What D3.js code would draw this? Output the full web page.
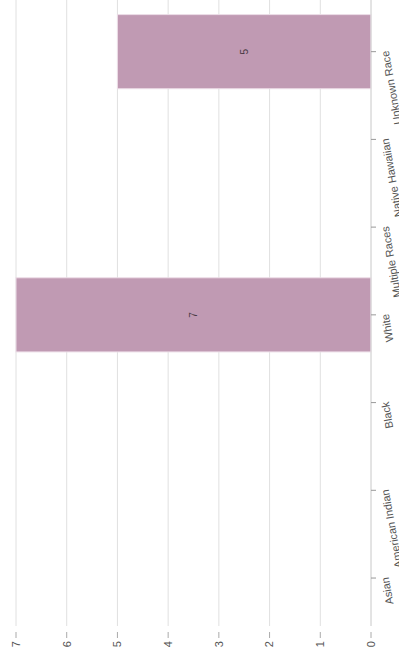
<!DOCTYPE html>
<html><head><meta charset="utf-8">
<script src="https://cdn.jsdelivr.net/npm/d3@7"></script>
<style>html,body{margin:0;padding:0;background:#fff;overflow:hidden}svg{display:block}</style>
</head><body>
<svg id="chart" width="399" height="657"></svg>
<script>
const categories = ["Asian","American Indian","Black","White","Multiple Races","Native Hawaiian","Unknown Race"];
const values = [null, null, null, 7, null, null, 5];
const valueTicks = [0,1,2,3,4,5,6,7];

const W = 657, H = 399; // rotated frame
const svg = d3.select("#chart");
const g = svg.append("g").attr("transform", "translate(0,657) rotate(-90)");

const x = d3.scaleBand().domain(categories).range([35.1, 649.2]).paddingInner(0.155).paddingOuter(0.0775);
const y = d3.scaleLinear().domain([0,7]).range([371, 16]);

// gridlines
g.append("g").selectAll("line").data(valueTicks).join("line")
  .attr("x1", 31).attr("x2", W)
  .attr("y1", d => y(d)).attr("y2", d => y(d))
  .attr("stroke", "#e0e0e0").attr("stroke-width", 1);

// bars
const data = categories.map((c,i)=>({c, v: values[i]})).filter(d => d.v != null);
g.append("g").selectAll("rect").data(data).join("rect")
  .attr("x", d => x(d.c)).attr("width", x.bandwidth())
  .attr("y", d => y(d.v)).attr("height", d => y(0) - y(d.v))
  .attr("fill", "#c09ab3").attr("stroke", "#ecdde7").attr("stroke-width", 1);

g.append("g").selectAll("text").data(data).join("text")
  .attr("x", d => x(d.c) + x.bandwidth()/2)
  .attr("y", d => (y(d.v) + y(0))/2)
  .attr("dy", "0.35em").attr("text-anchor", "middle")
  .attr("font-family", "Liberation Sans, Arial, sans-serif").attr("font-size", 10)
  .attr("fill", "#4a3a45").text(d => d.v);

// category axis (original bottom)
const xAxis = g.append("g").attr("transform", `translate(0,${y(0)})`);
xAxis.append("line").attr("x1", 31).attr("x2", W).attr("y1", 0).attr("y2", 0)
  .attr("stroke", "#d8d8d8");
const xt = xAxis.selectAll("g.t").data(categories).join("g").attr("class","t")
  .attr("transform", d => `translate(${x(d) + x.bandwidth()/2},0)`);
xt.append("line").attr("y1", 0).attr("y2", 5).attr("stroke", "#999");
xt.append("text")
  .attr("transform", "translate(0,10) rotate(-10)")
  .attr("text-anchor", "end").attr("dy", "0.71em")
  .attr("font-family", "Liberation Sans, Arial, sans-serif").attr("font-size", 11)
  .attr("fill", "#555").text(d => d);

// value axis (original left)
const yAxis = g.append("g").attr("transform", "translate(25,0)");
const yt = yAxis.selectAll("g.t").data(valueTicks).join("g").attr("class","t")
  .attr("transform", d => `translate(0,${y(d)})`);
yt.append("line").attr("x1", 0).attr("x2", -6).attr("stroke", "#aaa");
yt.append("text").attr("x", -9).attr("dy", "0.35em").attr("text-anchor", "end")
  .attr("font-family", "Liberation Sans, Arial, sans-serif").attr("font-size", 11)
  .attr("fill", "#555").text(d => d);
</script>
</body></html>
